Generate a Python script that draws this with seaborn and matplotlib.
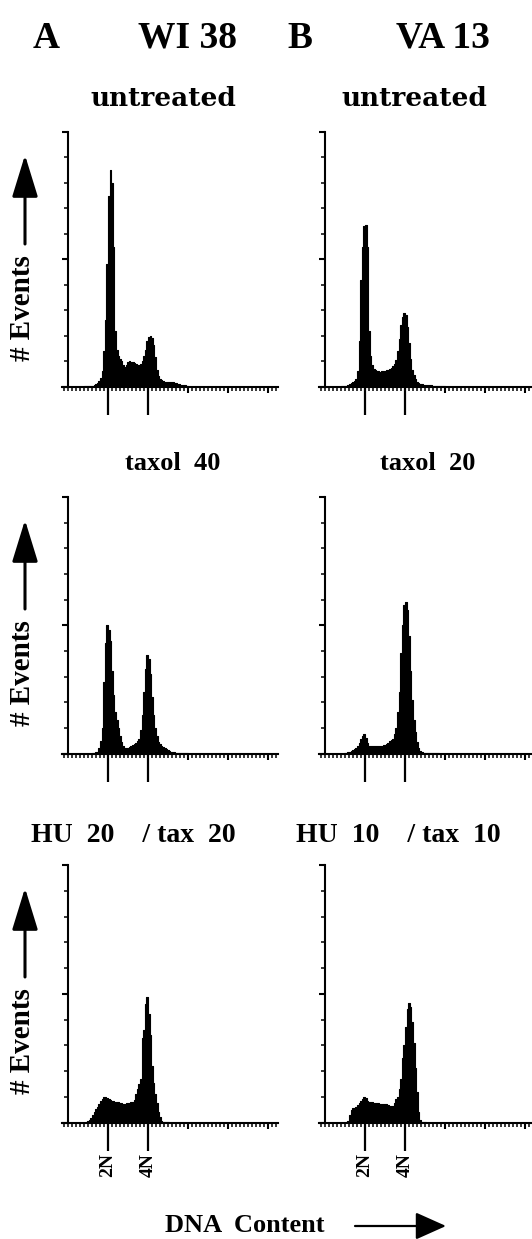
import matplotlib
matplotlib.use('Agg')
import matplotlib.pyplot as plt
import seaborn as sns
import numpy as np
import pandas as pd
from matplotlib.patches import FancyArrowPatch
from matplotlib.ticker import MultipleLocator

# flow cytometry DNA histograms, channel bins 2 wide (2N ~ ch 50, 4N ~ ch 100)
bin_edges = np.arange(20, 152, 2)
bin_centers = bin_edges[:-1] + 1

wi38_untreated = [0.03, 0.03, 0.02, 0.02, 0.03, 0.03, 0.05, 0.08,
                  0.15, 0.22, 0.33, 0.6, 1.4, 2.6, 4.8, 7.5, 8.5, 8.0, 5.5, 2.2,
                  1.45, 1.2, 1.1, 1.0, 0.85, 0.76, 0.85, 0.95, 1.0, 0.98, 0.95, 0.92,
                  0.88, 0.84, 0.85, 0.9, 1.0, 1.2, 1.45, 1.8, 1.95, 2.0, 1.9, 1.65,
                  1.15, 0.65, 0.4, 0.3, 0.25, 0.2, 0.18, 0.17, 0.16, 0.16, 0.17, 0.17,
                  0.15, 0.12, 0.1, 0.08, 0.06, 0.05, 0.04, 0.04, 0.03]
va13_untreated = [0.02, 0.02, 0.03, 0.03, 0.05, 0.1, 0.13, 0.16,
                  0.2, 0.3, 0.6, 1.8, 4.2, 5.5, 6.3, 6.35, 5.5, 2.2, 1.2, 0.85,
                  0.7, 0.65, 0.6, 0.6, 0.58, 0.6, 0.6, 0.62, 0.64, 0.66, 0.7, 0.74,
                  0.8, 0.9, 1.05, 1.4, 1.85, 2.4, 2.75, 2.9, 2.8, 2.35, 1.7, 1.1,
                  0.65, 0.45, 0.3, 0.18, 0.13, 0.1,
                  0.08, 0.07, 0.06, 0.06, 0.05, 0.04, 0.04, 0.03, 0.03, 0.02, 0.02,
                  0.02, 0.02, 0.01, 0.01]
wi38_taxol = [0, 0, 0, 0, 0, 0.01, 0.02, 0.04,
              0.06, 0.2, 0.5, 1.0, 2.8, 4.3, 5.0, 4.8, 4.4, 3.2, 2.3, 1.6,
              1.3, 1.0, 0.7, 0.45, 0.3, 0.2, 0.2, 0.23, 0.26, 0.3, 0.33, 0.38,
              0.42, 0.48, 0.58, 0.9, 1.5, 2.4, 3.3, 3.85, 3.7, 3.1, 2.2, 1.5,
              1.0, 0.7, 0.45, 0.38, 0.3, 0.26, 0.2, 0.16, 0.13, 0.1, 0.07, 0.05,
              0.04, 0.03, 0.03, 0.02, 0.02, 0.02, 0.01, 0.01, 0.01]
va13_taxol = [0, 0, 0.01, 0.02, 0.04, 0.07, 0.1, 0.13,
              0.17, 0.22, 0.3, 0.4, 0.55, 0.7, 0.75, 0.6, 0.42, 0.3, 0.28, 0.28,
              0.28, 0.29, 0.29, 0.3, 0.3, 0.31, 0.32, 0.33, 0.36, 0.42, 0.48, 0.53,
              0.58, 0.75, 1.0, 1.6, 2.4, 3.9, 5.0, 5.8, 5.9, 5.6, 4.6, 3.2,
              2.1, 1.3, 0.85, 0.45, 0.2, 0.08, 0.04,
              0.03, 0.02, 0.02, 0.02, 0.01, 0.01, 0.01, 0.01, 0.01, 0.01, 0, 0, 0, 0]
wi38_hu_tax = [0, 0.02, 0.05, 0.1, 0.18, 0.28, 0.4, 0.52, 0.62, 0.72,
               0.82, 0.92, 1.0, 1.0, 0.95, 0.9, 0.86, 0.85, 0.83, 0.81,
               0.8, 0.78, 0.76, 0.74, 0.73, 0.73, 0.74, 0.75, 0.76, 0.78,
               0.8, 0.86, 1.1, 1.3, 1.5, 1.7, 3.3, 3.6, 4.6, 4.86,
               4.2, 3.4, 2.2, 1.55, 1.1, 0.75, 0.4, 0.2, 0.05, 0.02,
               0.01, 0.01, 0.01, 0, 0, 0, 0, 0, 0, 0, 0, 0, 0, 0, 0]
va13_hu_tax = [0, 0, 0, 0.02, 0.05,
               0.3, 0.5, 0.55, 0.57, 0.62, 0.68, 0.75, 0.82, 0.9, 1.0,
               0.95, 0.82, 0.8, 0.79, 0.78, 0.77, 0.77, 0.76, 0.75, 0.73,
               0.72, 0.71, 0.7, 0.7, 0.68, 0.66, 0.64, 0.65, 0.75, 0.9,
               1.0, 1.3, 1.7, 2.5, 3.0, 3.7, 4.4, 4.65, 4.5, 3.9,
               3.1, 2.1, 1.2, 0.4, 0.1,
               0.03, 0.02, 0.01, 0, 0, 0, 0, 0, 0, 0, 0, 0, 0, 0, 0]

col_titles = ['untreated', 'untreated', 'taxol  40', 'taxol  20',
              'HU  20    / tax  20', 'HU  10    / tax  10']
panels = [wi38_untreated, va13_untreated, wi38_taxol, va13_taxol, wi38_hu_tax, va13_hu_tax]

sns.set_style('ticks')
plt.rcParams['font.family'] = ['DejaVu Serif']
plt.rcParams['font.weight'] = 'bold'
for key in ['text.color', 'axes.edgecolor', 'xtick.color', 'ytick.color', 'axes.labelcolor']:
    plt.rcParams[key] = 'black'

W, H = 532, 1239
fig = plt.figure(figsize=(W / 100, H / 100), dpi=100)


def fx(px):
    return px / W


def fy(py):
    return 1 - py / H


rows = [(132, 386.5), (497, 753.5), (865, 1122.5)]
lefts = [61.6, 318.6]
title_x = [[163, 414], [173, 428], [133, 398]]
title_y = [98, 463, 835]
title_size = [19, 19, 20]
times = 'Liberation Serif'

for i, vals in enumerate(panels):
    r, c = divmod(i, 2)
    top, bot = rows[r]
    ax = fig.add_axes([fx(lefts[c]), fy(bot), 216 / W, (bot - top) / H])
    df = pd.DataFrame({'channel': bin_centers, 'events': vals})
    sns.histplot(data=df, x='channel', weights='events', bins=list(bin_edges),
                 element='step', fill=True, color='black', edgecolor='black',
                 alpha=1, linewidth=0.8, ax=ax)
    ax.set_xlim(-8, 262)
    ax.set_ylim(0, 10)
    ax.set_xlabel('')
    ax.set_ylabel('')
    sns.despine(ax=ax)
    ax.spines['left'].set_position(('data', 0))
    for s in ['left', 'bottom']:
        ax.spines[s].set_linewidth(1.5)
    ax.set_yticks([0, 5, 10])
    ax.set_yticklabels([])
    ax.yaxis.set_minor_locator(MultipleLocator(1))
    ax.set_xticks([50, 100])
    if r == 2:
        ax.set_xticklabels(['2N', '4N'], rotation=90, fontsize=14,
                           fontfamily=times, fontweight='bold')
    else:
        ax.set_xticklabels([])
    ax.xaxis.set_minor_locator(MultipleLocator(5))
    ax.tick_params(axis='x', which='major', length=20, width=1.6, pad=2)
    ax.tick_params(axis='x', which='minor', length=2.6, width=1.1)
    ax.tick_params(axis='y', which='major', length=4.5, width=1.5)
    ax.tick_params(axis='y', which='minor', length=2.8, width=1.1)
    sec = ax.secondary_xaxis('bottom')
    sec.set_xticks([150, 200, 250])
    sec.tick_params(length=4.5, width=1.5, labelbottom=False)
    sec.spines['bottom'].set_visible(False)

    fam = 'DejaVu Serif' if r == 0 else times
    fig.text(fx(title_x[r][c]), fy(title_y[r]), col_titles[i], ha='center', va='center',
             fontsize=title_size[r], fontfamily=fam, fontweight='bold')

    if c == 0:
        fig.text(fx(23), fy(top + 176), '# Events', rotation=90, ha='center', va='center',
                 fontsize=21, fontfamily=times, fontweight='bold')
        arr = FancyArrowPatch((fx(25), fy(top + 112)), (fx(25), fy(top + 23)),
                              transform=fig.transFigure,
                              arrowstyle='-|>,head_length=26,head_width=8',
                              mutation_scale=1, lw=2.2, color='black',
                              shrinkA=0, shrinkB=0)
        fig.patches.append(arr)

# column headers
for txt, x in [('A', 46), ('WI 38', 187), ('B', 300), ('VA 13', 443)]:
    fig.text(fx(x), fy(38), txt, ha='center', va='center', fontsize=27,
             fontfamily=times, fontweight='bold')

fig.text(fx(245), fy(1225), 'DNA  Content', ha='center', va='center', fontsize=19,
         fontfamily=times, fontweight='bold')
arr = FancyArrowPatch((fx(355), fy(1226)), (fx(446), fy(1226)), transform=fig.transFigure,
                      arrowstyle='-|>,head_length=19,head_width=8.5', mutation_scale=1,
                      lw=1.6, color='black', shrinkA=0, shrinkB=0)
fig.patches.append(arr)

fig.savefig('out.png', dpi=100)
